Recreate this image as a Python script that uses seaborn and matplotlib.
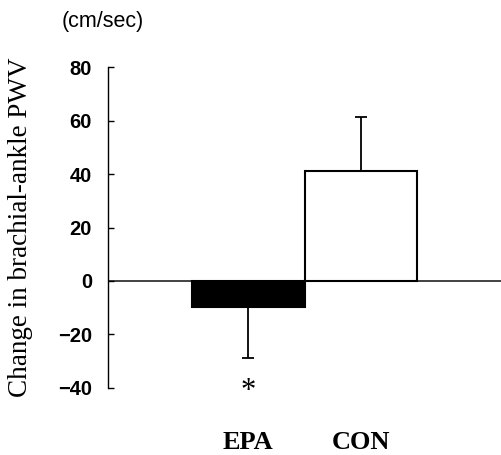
import numpy as np
import pandas as pd
import matplotlib
matplotlib.use("Agg")
import matplotlib.pyplot as plt
import seaborn as sns

# ----------------------------------------------------
# Data
# ----------------------------------------------------
groups = ["EPA", "CON"]
change = [-9.7, 41.1]          # mean change in baPWV (cm/sec)
sd = [19.1, 20.2]              # one-sided error bars
bar_colors = ["black", "white"]
yticks = [-40, -20, 0, 20, 40, 60, 80]

df = pd.DataFrame({"group": groups, "change": change})

sns.set_style("white")
plt.rcParams["font.family"] = ["Liberation Sans", "DejaVu Sans"]
plt.rcParams.update({"text.color": "black", "axes.labelcolor": "black",
                     "xtick.color": "black", "ytick.color": "black"})

fig = plt.figure(figsize=(5.01, 4.55), dpi=100)
ax = fig.add_axes([0.2156, 0.1473, 0.7844, 0.7054])

sns.barplot(data=df, x="group", y="change", order=groups, hue="group",
            palette=bar_colors, edgecolor="black", linewidth=1.5,
            width=1.0, legend=False, errorbar=None, ax=ax)

# one-sided error bars: down for negative bar, up for positive bar
lower = [s if v < 0 else 0 for v, s in zip(change, sd)]
upper = [s if v > 0 else 0 for v, s in zip(change, sd)]
ax.errorbar(range(len(groups)), change, yerr=[lower, upper], fmt="none",
            ecolor="black", elinewidth=1.3, capsize=4.5, capthick=1.3)

ax.axhline(0, color="#333333", lw=1.3, zorder=0.5)

# significance marker
ax.text(0, -41.5, "*", ha="center", va="center", fontsize=22,
        family="Liberation Serif")

ax.set_xlim(-1.25, 2.25)
ax.set_ylim(-40, 80)
ax.set_yticks(yticks)
ax.set_yticklabels([str(t).replace("-", "\u2212") for t in yticks],
                   fontweight="bold", fontsize=14.5)
ax.tick_params(axis="y", direction="in", length=4.5, width=1, pad=11.5,
               left=True, colors="black")
ax.tick_params(axis="x", length=0, pad=31, colors="black")
for lab in ax.get_xticklabels():
    lab.set_fontfamily("Liberation Serif")
    lab.set_fontweight("bold")
    lab.set_fontsize(19)

for side in ["top", "right", "bottom"]:
    ax.spines[side].set_visible(False)
ax.spines["left"].set_color("black")
ax.spines["left"].set_linewidth(1)

ax.set_xlabel("")
ax.set_ylabel("Change in brachial-ankle PWV", family="Liberation Serif",
              fontsize=19.5, color="black")
ax.yaxis.set_label_coords(-0.19, 0.5)

fig.text(0.124, 0.952, "(cm/sec)", fontsize=15.5, ha="left", va="center",
         color="black")

fig.savefig("out.png", dpi=100)
